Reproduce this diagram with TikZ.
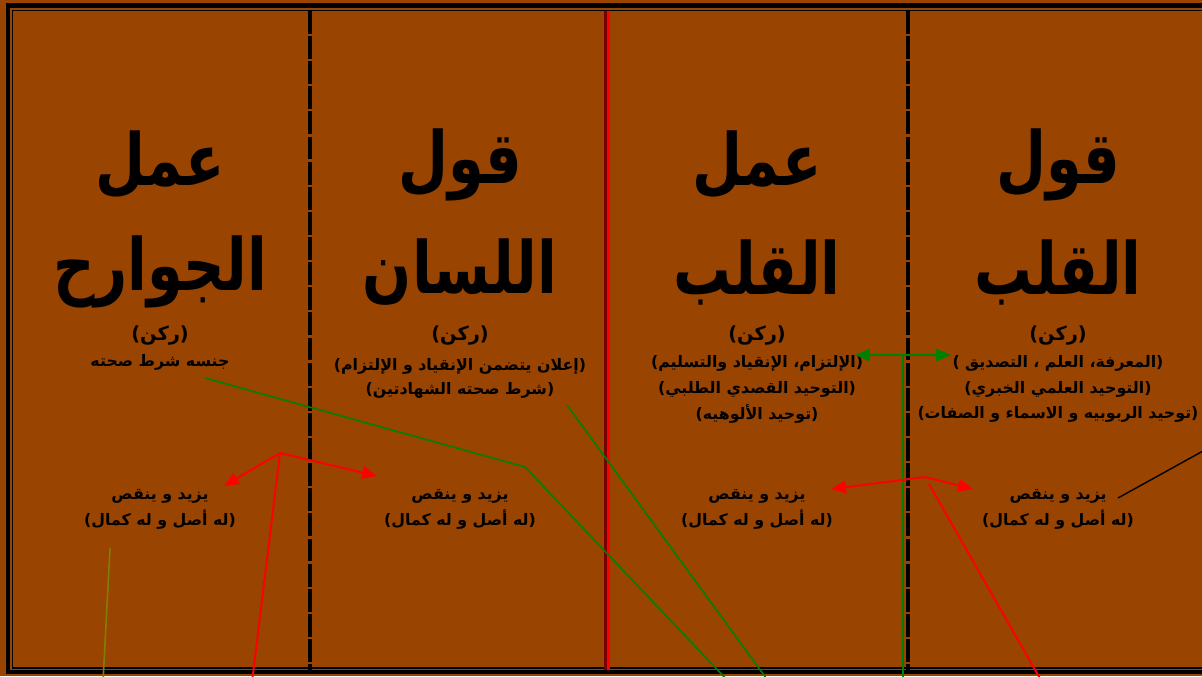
\documentclass[tikz,border=0pt]{standalone}
\usepackage{fontspec}
\newfontfamily\arabicfont[Script=Arabic]{DejaVu Sans}
\newfontfamily\titlefont[Script=Arabic,FakeStretch=0.8]{DejaVu Sans}
\TeXXeTstate=1
\usetikzlibrary{arrows.meta}
\definecolor{bgbrown}{RGB}{153,68,0}
\definecolor{linkgreen}{RGB}{0,128,0}
\definecolor{linkolive}{RGB}{128,128,0}
\definecolor{darkred}{RGB}{120,0,0}
\newcommand{\rl}[1]{\beginR #1\endR}

\begin{document}
\begin{tikzpicture}[x=0.02cm,y=-0.02cm,
  title/.style={font=\titlefont\bfseries\fontsize{41}{48}\selectfont,inner sep=0pt},
  small/.style={font=\arabicfont\bfseries\fontsize{9}{11}\selectfont,inner sep=0pt},
  rukn/.style={font=\arabicfont\bfseries\fontsize{11}{13}\selectfont,inner sep=0pt},
  divider/.style={line width=2.2pt,dash pattern=on 13pt off 1.3pt},
  tip/.style={-{Triangle[length=8.5pt,width=7pt]}}]
% 背景
\useasboundingbox (0,0) rectangle (1202,676);
\clip (0,0) rectangle (1202,676);
\fill[bgbrown] (0,0) rectangle (1202,676);
% 外框
\draw[line width=2.6pt] (8,5.5) rectangle (1260,672);
\draw[line width=0.7pt] (12.5,10.5) rectangle (1255,668);
% 分隔线
\draw[divider] (310,11) -- (310,670);
\draw[divider] (908,11) -- (908,670);
\draw[line width=3.6pt,darkred] (607,11) -- (607,670);
\draw[line width=1.9pt,red] (608.6,11) -- (608.6,670);
% 标题
\node[title] (jaw1) at (160,165) {\rl{عمل}};
\node[title] (jaw2) at (160,272) {\rl{الجوارح}};
\node[title] (lis1) at (460,165) {\rl{قول}};
\node[title] (lis2) at (460,272) {\rl{اللسان}};
\node[title] (amq1) at (757,165) {\rl{عمل}};
\node[title] (amq2) at (757,272) {\rl{القلب}};
\node[title] (qaq1) at (1058,165) {\rl{قول}};
\node[title] (qaq2) at (1058,272) {\rl{القلب}};
% 第一列说明
\node[rukn] (jawr) at (160,336) {\rl{(ركن)}};
\node[small] (jawa) at (160,362) {\rl{جنسه شرط صحته}};
% 第二列说明
\node[rukn] (lisr) at (460,336) {\rl{(ركن)}};
\node[small] (lisa) at (460,366) {\rl{(إعلان يتضمن الإنقياد و الإلتزام)}};
\node[small] (lisb) at (460,390) {\rl{(شرط صحته  الشهادتين)}};
% 第三列说明
\node[rukn] (amqr) at (757,336) {\rl{(ركن)}};
\node[small] (amqa) at (757,363) {\rl{(الإلتزام، الإنقياد والتسليم)}};
\node[small] (amqb) at (757,389) {\rl{(التوحيد القصدي الطلبي)}};
\node[small] (amqc) at (757,414) {\rl{(توحيد الألوهيه)}};
% 第四列说明
\node[rukn] (qaqr) at (1058,336) {\rl{(ركن)}};
\node[small] (qaqa) at (1058,363) {\rl{(المعرفة، العلم ، التصديق )}};
\node[small] (qaqb) at (1058,389) {\rl{(التوحيد العلمي الخبري)}};
\node[small] (qaqc) at (1058,414) {\rl{(توحيد الربوبيه و الاسماء و الصفات)}};
% 增减
\node[small] (jawz) at (160,496) {\rl{يزيد و ينقص}};
\node[small] (jawk) at (160,520) {\rl{(له أصل و له كمال)}};
\node[small] (lisz) at (460,496) {\rl{يزيد و ينقص}};
\node[small] (lisk) at (460,520) {\rl{(له أصل و له كمال)}};
\node[small] (amqz) at (757,496) {\rl{يزيد و ينقص}};
\node[small] (amqk) at (757,520) {\rl{(له أصل و له كمال)}};
\node[small] (qaqz) at (1058,496) {\rl{يزيد و ينقص}};
\node[small] (qaqk) at (1058,520) {\rl{(له أصل و له كمال)}};
% 连线端点
\coordinate (g1s) at (205,378);
\coordinate (g1m) at (525,467);
\coordinate (g1e) at (729,682);
\coordinate (g2s) at (567,405);
\coordinate (g2e) at (769,682);
\coordinate (gl) at (855,355);
\coordinate (gr) at (951,355);
\coordinate (gv) at (903,355);
\coordinate (gb) at (903,682);
\coordinate (rla) at (280,453);
\coordinate (rll) at (224,486);
\coordinate (rlr) at (377,476);
\coordinate (rlb) at (252,682);
\coordinate (rra) at (925,477);
\coordinate (rrl) at (831,489);
\coordinate (rrr) at (973,489);
\coordinate (rrs) at (929,484);
\coordinate (rrb) at (1042,682);
\coordinate (bks) at (1118,498);
\coordinate (bke) at (1212,446);
\coordinate (ols) at (110,548);
\coordinate (ole) at (103,682);
% 绿色连线
\draw[linkgreen,line width=0.9pt] (g1s) -- (g1m) -- (g1e);
\draw[linkgreen,line width=0.9pt] (g2s) -- (g2e);
\draw[linkgreen,line width=0.9pt,{Triangle[length=8.5pt,width=7pt]}-{Triangle[length=8.5pt,width=7pt]}] (gl) -- (gr);
\draw[linkgreen,line width=0.9pt] (gv) -- (gb);
% 红色箭头
\draw[red,line width=1.1pt,tip] (rla) -- (rll);
\draw[red,line width=1.1pt,tip] (rla) -- (rlr);
\draw[red,line width=1.1pt] (rla) -- (rlb);
\draw[red,line width=1.1pt,tip] (rra) -- (rrl);
\draw[red,line width=1.1pt,tip] (rra) -- (rrr);
\draw[red,line width=1.1pt] (rrs) -- (rrb);
% 其他连线
\draw[line width=0.8pt] (bks) -- (bke);
\draw[linkolive,line width=0.9pt] (ols) -- (ole);
\end{tikzpicture}
\end{document}
